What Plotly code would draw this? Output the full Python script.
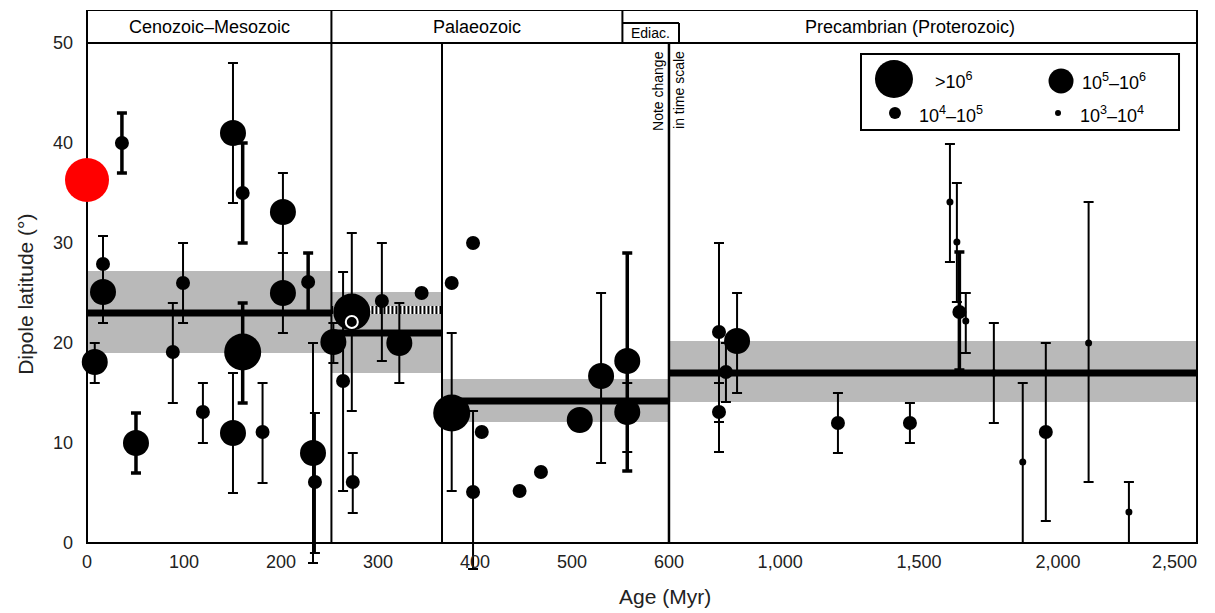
import plotly.graph_objects as go

# ---------------- data ----------------
# Pole / site records: age (Myr), dipole latitude (deg), error-bar limits,
# size class (A: >10^6, B: 10^5-10^6, C: 10^4-10^5, D: 10^3-10^4), heavy bar flag
ages = [8, 16.5, 16.5, 36, 50.5, 88.5, 99, 119.5, 150.5, 150.5, 160.5, 160.5, 181, 202, 202, 228, 233, 235,
        254, 264, 273, 274, 304, 322, 345, 376, 376, 398, 398, 407, 446, 468, 508, 530, 557, 557,
        780, 780, 805, 845, 1208, 1467, 1611, 1636, 1645, 1668, 1769, 1873, 1956, 2110, 2255]
lats = [18.1, 27.9, 25.1, 40, 10, 19.1, 26, 13.1, 11, 41, 35, 19.1, 11.1, 33.1, 25, 26.1, 9, 6.1,
        20.1, 16.2, 23.1, 6.1, 24.2, 20, 25, 26, 13, 30, 5.1, 11.1, 5.2, 7.1, 12.3, 16.7, 18.2, 13.1,
        21.1, 13.1, 17.1, 20.2, 12, 12, 34.1, 30.1, 23.1, 22.2, 17, 8.1, 11.1, 20, 3.1]
err_low = [16, 25.1, 22, 37, 7, 14, 22, 10, 5, 34, 30, 14, 6, 29, 21, 23, -2, -1,
           18, 5.2, 13.2, 3, 18.2, 16, None, None, 5.2, None, -2.6, None, None, None, None, 8, 7.2, 9.1,
           12.1, 9.1, 14.1, 15, 9, 10, 28.1, 24.1, 17.3, 19, 12, 0, 2.2, 6.1, 0]
err_high = [20, 30.7, 25.1, 43, 13, 24, 30, 16, 17, 48, 40, 24, 16, 37, 29, 29, 20, 13,
            22, 27.1, 31, 9, 30, 24, None, None, 21, None, 13.2, None, None, None, None, 25, 29, 16,
            30, 16, 20, 25, 15, 14, 39.9, 36, 29.1, 25, 22, 16, 20, 34.1, 6.1]
size_class = ["B", "C", "B", "C", "B", "C", "C", "C", "B", "B", "C", "A", "C", "B", "B", "C", "B", "C",
              "B", "C", "A", "C", "C", "B", "C", "C", "A", "C", "C", "C", "C", "C", "B", "B", "B", "B",
              "C", "C", "C", "B", "C", "C", "D", "D", "C", "D", "D", "D", "C", "D", "D"]
heavy_bar = [False, False, False, True, True, False, False, False, False, False, True, True, False, False, False, True, False, False,
             False, False, False, False, False, False, False, False, False, False, False, False, False, False, False, False, True, False,
             False, False, False, False, False, False, False, False, True, False, False, False, False, False, False]

# Period means with their uncertainty bands
seg_start = [0, 252, 366, 600]
seg_end = [252, 366, 600, 2500]
seg_mean = [23, 21, 14.2, 17]
seg_band_low = [19, 17, 12.1, 14.1]
seg_band_high = [27.2, 25.1, 16.4, 20.2]

# Alternative (hatched) mean for 252-366 Myr and the open-ring record
alt_start, alt_end, alt_mean = 252, 366, 23.3
ring_age, ring_lat = [273], [22.1]

# Present-day reference point
red_age, red_lat = [0], [36.3]

# Geological time header
era_names = ["Cenozoic–Mesozoic", "Palaeozoic", "Precambrian (Proterozoic)"]
era_bounds = [0, 252, 552, 2500]
ediac_bounds = [552, 636]
inner_boundary = 366

legend_labels = [">10<sup>6</sup>", "10<sup>5</sup>–10<sup>6</sup>", "10<sup>4</sup>–10<sup>5</sup>", "10<sup>3</sup>–10<sup>4</sup>"]
legend_classes = ["A", "B", "C", "D"]

left_ticks = [0, 100, 200, 300, 400, 500, 600]
right_ticks = [1000, 1500, 2000]
right_tick_text = ["1,000", "1,500", "2,000"]
last_tick, last_tick_text = [2500], ["2,500"]
y_ticks = [0, 10, 20, 30, 40, 50]

# ---------------- styling ----------------
SPLIT = 0.5243          # share of the width given to the 0-600 Myr panel
Y_BOTTOM = -3.0         # room below zero so long error bars are not cut
Y_TOP = 53.3            # header occupies 50 .. Y_TOP
X_AXIS_POS = -Y_BOTTOM / (Y_TOP - Y_BOTTOM)
HEADER_MID = 51.6
EDIAC_TOP = 52.0
marker_px = {"A": 37, "B": 26, "C": 14, "D": 7}
legend_px = {"A": 38, "B": 25, "C": 12, "D": 6}
BAND = "#b9b9b9"
FONT = "Liberation Sans, Arial, sans-serif"


def to_paper(age):
    if age <= 600:
        return SPLIT * age / 600
    return SPLIT + (1 - SPLIT) * (age - 600) / 1900


fig = go.Figure()

# error bars, split by panel and bar weight
for xa, pick in (("x", lambda a: a < 600), ("x2", lambda a: a >= 600)):
    for heavy in (False, True):
        idx = [i for i in range(len(ages))
               if pick(ages[i]) and err_low[i] is not None and heavy_bar[i] == heavy]
        if not idx:
            continue
        fig.add_trace(go.Scatter(
            x=[ages[i] for i in idx], y=[lats[i] for i in idx], mode="markers",
            marker=dict(size=2, color="rgba(0,0,0,0)"),
            error_y=dict(type="data", symmetric=False,
                         array=[err_high[i] - lats[i] for i in idx],
                         arrayminus=[lats[i] - err_low[i] for i in idx],
                         color="black", thickness=3.5 if heavy else 2, width=5),
            xaxis=xa, yaxis="y", cliponaxis=False, showlegend=False, hoverinfo="skip"))

# markers by size class
for xa, pick in (("x", lambda a: a < 600), ("x2", lambda a: a >= 600)):
    for cls in ["A", "B", "C", "D"]:
        idx = [i for i in range(len(ages)) if pick(ages[i]) and size_class[i] == cls]
        if not idx:
            continue
        fig.add_trace(go.Scatter(
            x=[ages[i] for i in idx], y=[lats[i] for i in idx], mode="markers",
            marker=dict(size=marker_px[cls], color="black", line=dict(width=0)),
            xaxis=xa, yaxis="y", cliponaxis=False, showlegend=False))

# open ring record
fig.add_trace(go.Scatter(x=ring_age, y=ring_lat, mode="markers",
                         marker=dict(symbol="circle-open", size=12, color="white", line=dict(width=2)),
                         xaxis="x", yaxis="y", showlegend=False))

# present-day point
fig.add_trace(go.Scatter(x=red_age, y=red_lat, mode="markers",
                         marker=dict(size=44, color="#ff0000", line=dict(width=0)),
                         xaxis="x", yaxis="y", cliponaxis=False, showlegend=False))

# placeholder so the end-of-scale tick axis is drawn
fig.add_trace(go.Scatter(x=last_tick, y=[0], mode="markers", marker=dict(size=1, color="rgba(0,0,0,0)"),
                         xaxis="x4", yaxis="y", showlegend=False, hoverinfo="skip"))

# legend swatches on an overlay sharing the latitude scale
lg_x = [0.7270, 0.8775, 0.7279, 0.8748]
lg_y = [46.4, 46.2, 43.0, 43.0]
for cls, lx, ly in zip(legend_classes, lg_x, lg_y):
    fig.add_trace(go.Scatter(x=[lx], y=[ly], mode="markers",
                             marker=dict(size=legend_px[cls], color="black"),
                             xaxis="x3", yaxis="y3", showlegend=False, hoverinfo="skip"))

shapes = []
# bands
for s, e, lo, hi in zip(seg_start, seg_end, seg_band_low, seg_band_high):
    shapes.append(dict(type="rect", xref="paper", yref="y", x0=to_paper(s), x1=to_paper(e),
                       y0=lo, y1=hi, fillcolor=BAND, line=dict(width=0), layer="below"))
# means
for s, e, m in zip(seg_start, seg_end, seg_mean):
    shapes.append(dict(type="line", xref="paper", yref="y", x0=to_paper(s), x1=to_paper(e),
                       y0=m, y1=m, line=dict(color="black", width=7), layer="below"))
# hatched alternative mean
shapes.append(dict(type="line", xref="paper", yref="y", x0=to_paper(alt_start), x1=to_paper(alt_end),
                   y0=alt_mean, y1=alt_mean, line=dict(color="white", width=8), layer="below"))
shapes.append(dict(type="line", xref="paper", yref="y", x0=to_paper(alt_start), x1=to_paper(alt_end),
                   y0=alt_mean, y1=alt_mean, line=dict(color="black", width=8, dash="2px,2px"), layer="below"))

LW = 2
# frame including header
shapes.append(dict(type="rect", xref="paper", yref="y", x0=0, x1=1, y0=0, y1=Y_TOP,
                   line=dict(color="black", width=LW), layer="below"))
shapes.append(dict(type="line", xref="paper", yref="y", x0=0, x1=1, y0=50, y1=50,
                   line=dict(color="black", width=LW), layer="below"))
# era boundary (full height), inner boundary, Ediacaran box
shapes.append(dict(type="line", xref="paper", yref="y", x0=to_paper(era_bounds[1]), x1=to_paper(era_bounds[1]),
                   y0=0, y1=Y_TOP, line=dict(color="black", width=LW), layer="below"))
shapes.append(dict(type="line", xref="paper", yref="y", x0=to_paper(inner_boundary), x1=to_paper(inner_boundary),
                   y0=0, y1=50, line=dict(color="black", width=LW), layer="below"))
shapes.append(dict(type="line", xref="paper", yref="y", x0=to_paper(era_bounds[2]), x1=to_paper(era_bounds[2]),
                   y0=50, y1=Y_TOP, line=dict(color="black", width=LW), layer="below"))
shapes.append(dict(type="line", xref="paper", yref="y", x0=to_paper(ediac_bounds[0]), x1=to_paper(ediac_bounds[1]),
                   y0=EDIAC_TOP, y1=EDIAC_TOP, line=dict(color="black", width=LW), layer="below"))
shapes.append(dict(type="line", xref="paper", yref="y", x0=to_paper(ediac_bounds[1]), x1=to_paper(ediac_bounds[1]),
                   y0=50, y1=EDIAC_TOP, line=dict(color="black", width=LW), layer="below"))
# time-scale change
shapes.append(dict(type="line", xref="paper", yref="y", x0=to_paper(600), x1=to_paper(600),
                   y0=0, y1=50, line=dict(color="black", width=2.5), layer="below"))
# legend box
shapes.append(dict(type="rect", xref="paper", yref="y", x0=0.6973, x1=0.9838, y0=41.3, y1=48.9,
                   line=dict(color="black", width=LW), fillcolor="white", layer="below"))

annotations = []
centers = [(to_paper(era_bounds[0]) + to_paper(era_bounds[1])) / 2,
           (to_paper(era_bounds[1]) + to_paper(era_bounds[2])) / 2,
           (to_paper(era_bounds[2]) + to_paper(era_bounds[3])) / 2]
for name, cx in zip(era_names, centers):
    annotations.append(dict(text=name, xref="paper", yref="y", x=cx, y=HEADER_MID, showarrow=False,
                            xanchor="center", yanchor="middle",
                            font=dict(size=18, color="black", family=FONT)))
annotations.append(dict(text="Ediac.", xref="paper", yref="y",
                        x=(to_paper(ediac_bounds[0]) + to_paper(ediac_bounds[1])) / 2, y=51.0,
                        xanchor="center", yanchor="middle",
                        showarrow=False, font=dict(size=14, color="black", family=FONT)))
annotations.append(dict(text="Note change", xref="paper", yref="y", x=to_paper(600), y=49.4,
                        xshift=-11, xanchor="center", yanchor="top", textangle=-90, showarrow=False,
                        font=dict(size=14, color="black", family=FONT)))
annotations.append(dict(text="in time scale", xref="paper", yref="y", x=to_paper(600), y=49.4,
                        xshift=10, xanchor="center", yanchor="top", textangle=-90, showarrow=False,
                        font=dict(size=14, color="black", family=FONT)))
lt_x = [0.7622, 0.8946, 0.7477, 0.8928]
lt_y = [46.3, 46.2, 42.9, 42.9]
for txt, tx, ty in zip(legend_labels, lt_x, lt_y):
    annotations.append(dict(text=txt, xref="paper", yref="y", x=tx, y=ty, xanchor="left",
                            yanchor="middle", showarrow=False, font=dict(size=18, color="black", family=FONT)))
annotations.append(dict(text="Dipole latitude (°)", xref="paper", yref="y", x=-0.056, y=24.9,
                        xanchor="center", yanchor="middle", textangle=-90, showarrow=False,
                        font=dict(size=21, color="#222", family=FONT)))
annotations.append(dict(text="Age (Myr)", xref="paper", yref="paper", x=0.5207, y=-0.0426,
                        xanchor="center", yanchor="middle", showarrow=False,
                        font=dict(size=21, color="#222", family=FONT)))

tick_font = dict(size=18, color="#222", family=FONT)
common_x = dict(showgrid=False, zeroline=False, showline=False, ticks="", tickfont=tick_font,
                anchor="free", position=X_AXIS_POS, automargin=False, ticklabelstandoff=6)
fig.update_layout(
    width=1215, height=613,
    margin=dict(l=87, r=18, t=10, b=40, autoexpand=False),
    paper_bgcolor="white", plot_bgcolor="rgba(0,0,0,0)",
    showlegend=False,
    shapes=shapes, annotations=annotations,
    xaxis=dict(domain=[0, SPLIT], range=[0, 600], tickvals=left_ticks, **common_x),
    xaxis2=dict(domain=[SPLIT, 1], range=[600, 2500], tickvals=right_ticks, ticktext=right_tick_text,
                **common_x),
    xaxis4=dict(overlaying="x2", range=[600, 2500], tickvals=last_tick, ticktext=last_tick_text,
                ticklabelposition="outside left", ticklabeloverflow="allow", **common_x),
    yaxis=dict(range=[Y_BOTTOM, Y_TOP], tickvals=y_ticks, showgrid=False, zeroline=False, showline=False,
               ticks="", tickfont=tick_font, automargin=False, ticklabelstandoff=13),
    xaxis3=dict(domain=[0, 1], range=[0, 1], visible=False, anchor="y3", automargin=False),
    yaxis3=dict(range=[Y_BOTTOM, Y_TOP], visible=False, anchor="x3", overlaying="y", automargin=False),
)

fig.write_html("out.html")
